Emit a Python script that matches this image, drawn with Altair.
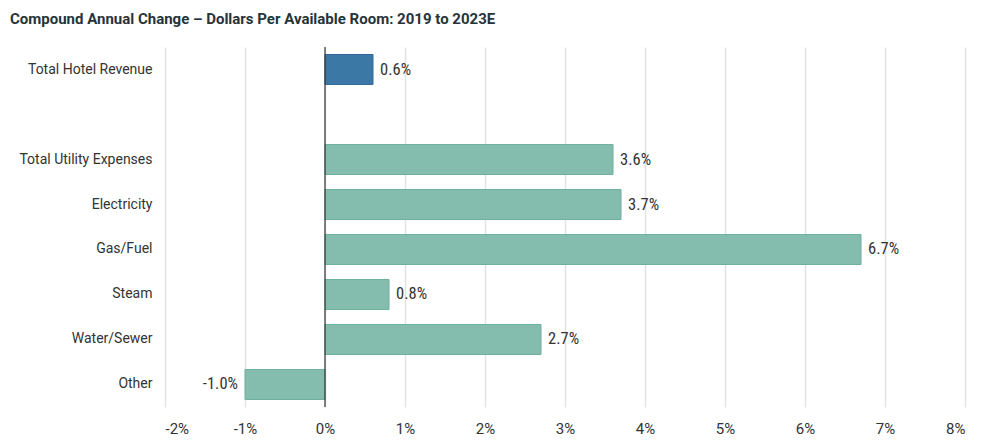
import altair as alt
import pandas as pd

categories = ["Total Hotel Revenue", " ", "Total Utility Expenses", "Electricity",
              "Gas/Fuel", "Steam", "Water/Sewer", "Other"]
bar_categories = ["Total Hotel Revenue", "Total Utility Expenses", "Electricity",
                  "Gas/Fuel", "Steam", "Water/Sewer", "Other"]
values = [0.6, 3.6, 3.7, 6.7, 0.8, 2.7, -1.0]
groups = ["Revenue", "Utility", "Utility", "Utility", "Utility", "Utility", "Utility"]
x_ticks = [-2, -1, 0, 1, 2, 3, 4, 5, 6, 7, 8]

df = pd.DataFrame({"category": bar_categories, "value": values, "group": groups})

LABEL_FONT = "Roboto"
VALUE_FONT = "Liberation Sans Narrow, Roboto Condensed, DejaVu Sans Condensed"

y_enc = alt.Y("category:N", scale=alt.Scale(domain=categories, paddingInner=0.333, paddingOuter=0.1667),
              axis=alt.Axis(title=None, ticks=False, domain=False, labelPadding=13,
                            labelFontSize=14, labelColor="#333333", labelFont=LABEL_FONT, grid=False))
x_scale = alt.Scale(domain=[-2, 8], nice=False, zero=False)

base = alt.Chart(df)

bars = base.mark_bar(strokeWidth=1).encode(
    y=y_enc,
    x=alt.X("value:Q", scale=x_scale,
            axis=alt.Axis(title=None, values=x_ticks, labelExpr="datum.value + '%'",
                          grid=True, gridColor="#e3e3e3", gridWidth=1.5, ticks=False, domain=False,
                          labelPadding=14, labelFontSize=15, labelColor="#333333", labelFont=LABEL_FONT)),
    x2=alt.datum(0),
    fill=alt.Color("group:N", scale=alt.Scale(domain=["Revenue", "Utility"], range=["#3c78a5", "#84bcad"]), legend=None),
    stroke=alt.Stroke("group:N", scale=alt.Scale(domain=["Revenue", "Utility"], range=["#35699a", "#6fb09d"]), legend=None),
)

pos_labels = base.transform_filter("datum.value >= 0").transform_calculate(
    label="format(datum.value, '.1f') + '%'"
).mark_text(align="left", baseline="middle", dx=7, fontSize=16.5, font=VALUE_FONT, color="#333333").encode(
    y=alt.Y("category:N", scale=alt.Scale(domain=categories)),
    x=alt.X("value:Q", scale=x_scale),
    text="label:N",
)

neg_labels = base.transform_filter("datum.value < 0").transform_calculate(
    label="'-' + format(abs(datum.value), '.1f') + '%'"
).mark_text(align="right", baseline="middle", dx=-7, fontSize=16.5, font=VALUE_FONT, color="#333333").encode(
    y=alt.Y("category:N", scale=alt.Scale(domain=categories)),
    x=alt.X("value:Q", scale=x_scale),
    text="label:N",
)

zero_rule = alt.Chart(pd.DataFrame({"z": [0]})).mark_rule(color="#333333", strokeWidth=1.2).encode(
    x=alt.X("z:Q", scale=x_scale)
)

chart = alt.layer(bars, zero_rule, pos_labels, neg_labels).properties(
    width=800, height=360,
    title=alt.TitleParams("Compound Annual Change – Dollars Per Available Room: 2019 to 2023E",
                          anchor="start", frame="group", dx=-155, offset=19,
                          fontSize=15, fontWeight="bold", font="Roboto", color="#26343a"),
    autosize=alt.AutoSizeParams(type="none"),
    padding={"left": 157, "top": 39, "right": 27, "bottom": 30},
).configure_view(stroke=None)

chart.save("out.html", embed_options={"renderer": "svg", "actions": False})
